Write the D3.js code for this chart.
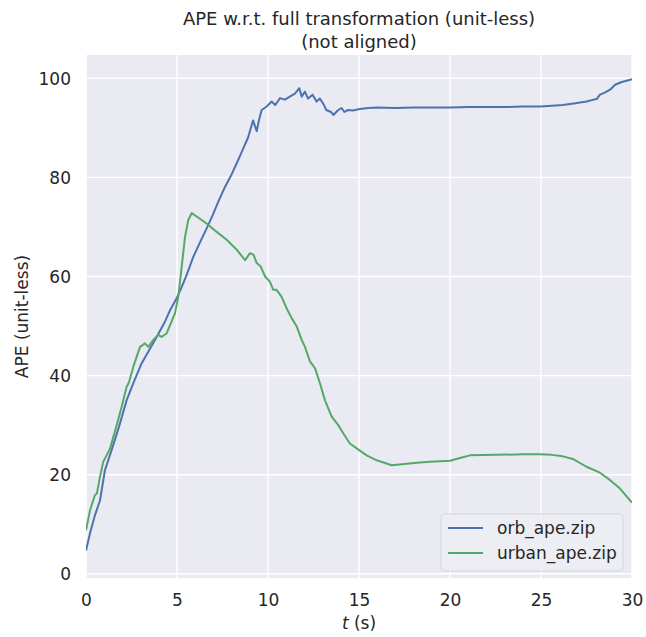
<!DOCTYPE html>
<html>
<head>
<meta charset="utf-8">
<script src="https://cdn.jsdelivr.net/npm/d3@7"></script>
<style>
  html, body { margin: 0; padding: 0; background: #ffffff; }
  svg { display: block; }
  text { font-family: "DejaVu Sans", sans-serif; fill: #262626; }
</style>
</head>
<body>
<svg id="chart" width="646" height="637"></svg>
<script>
// ---- data ----
const titleLines = ["APE w.r.t. full transformation (unit-less)", "(not aligned)"];
const xTicks = [0, 5, 10, 15, 20, 25, 30];
const yTicks = [0, 20, 40, 60, 80, 100];
const seriesNames = ["orb_ape.zip", "urban_ape.zip"];

const orbT = [0, 0.22, 0.49, 0.77, 1.04, 1.41, 1.8, 2.23, 2.6, 3.06, 3.5, 3.88, 4.3, 4.62, 4.98, 5.25, 5.53, 5.9, 6.25, 6.63, 6.95, 7.27, 7.6, 8.0, 8.3, 8.6, 8.9, 9.18, 9.28, 9.38, 9.5, 9.65, 9.93, 10.2, 10.4, 10.66, 10.93, 11.2, 11.48, 11.72, 11.85, 12.03, 12.2, 12.45, 12.67, 12.85, 13.08, 13.2, 13.46, 13.59, 13.86, 14.04, 14.2, 14.4, 14.66, 15.05, 15.5, 16.0, 17.0, 18.0, 19.0, 20.0, 21.0, 22.0, 23.0, 24.0, 25.0, 26.2, 26.8, 27.5, 27.9, 28.06, 28.24, 28.5, 28.8, 29.07, 29.4, 29.7, 30];
const orbV = [4.7, 8.2, 11.8, 14.8, 20.9, 25.0, 29.5, 35.0, 38.5, 42.5, 45.3, 47.8, 50.6, 53.2, 55.6, 57.8, 60.3, 64.0, 66.8, 69.7, 72.3, 75.1, 77.8, 80.6, 83.0, 85.5, 88.0, 91.5, 90.4, 89.3, 91.5, 93.6, 94.3, 95.3, 94.6, 96.0, 95.7, 96.3, 96.9, 98.0, 96.3, 97.3, 95.9, 96.7, 95.3, 95.9, 94.6, 93.6, 93.2, 92.6, 93.6, 94.0, 93.2, 93.6, 93.5, 93.8, 94.0, 94.1, 94.0, 94.1, 94.1, 94.1, 94.2, 94.2, 94.2, 94.3, 94.3, 94.6, 94.9, 95.3, 95.7, 95.8, 96.7, 97.1, 97.7, 98.7, 99.2, 99.5, 99.8];

const urbanT = [0, 0.22, 0.49, 0.6, 0.77, 0.95, 1.23, 1.32, 1.65, 1.96, 2.23, 2.36, 2.6, 2.97, 3.24, 3.42, 3.7, 3.97, 4.15, 4.43, 4.7, 4.89, 5.07, 5.26, 5.44, 5.62, 5.81, 6.08, 6.63, 7.18, 7.73, 8.28, 8.74, 9.01, 9.2, 9.38, 9.6, 9.84, 10.11, 10.29, 10.47, 10.75, 11.02, 11.3, 11.58, 11.85, 12.03, 12.31, 12.58, 12.86, 13.13, 13.5, 13.86, 14.14, 14.5, 14.87, 15.42, 15.97, 16.8, 18.17, 18.9, 20.0, 20.5, 21.1, 22.5, 24.0, 24.9, 25.6, 26.2, 26.8, 27.5, 28.24, 28.8, 29.34, 29.89, 30];
const urbanV = [8.8, 12.8, 15.9, 16.2, 19.6, 22.6, 24.6, 25.3, 29.5, 33.7, 37.7, 38.6, 41.8, 45.8, 46.5, 45.8, 47.2, 48.2, 47.8, 48.5, 50.9, 52.6, 55.9, 62.0, 68.0, 71.4, 72.8, 72.1, 70.7, 69.0, 67.4, 65.4, 63.3, 64.7, 64.4, 62.7, 62.0, 60.0, 58.9, 57.3, 57.3, 55.9, 53.6, 51.6, 49.9, 47.2, 45.8, 42.8, 41.5, 38.4, 35.0, 31.7, 30.0, 28.3, 26.3, 25.3, 23.9, 22.9, 21.9, 22.4, 22.6, 22.8, 23.3, 23.9, 24.0, 24.1, 24.1, 24.0, 23.7, 23.1, 21.6, 20.4, 18.9, 17.2, 14.8, 14.4];

// ---- layout ----
const svg = d3.select("#chart");
const plot = { left: 86, right: 632, top: 55, bottom: 578 };
const colors = ["#4C72B0", "#55A868"];
const bg = "#EAEAF2";

const x = d3.scaleLinear().domain([0, 30]).range([plot.left, plot.right]);
const y = d3.scaleLinear().domain([-0.85, 104.7]).range([plot.bottom, plot.top]);

// background
svg.append("rect")
  .attr("x", plot.left).attr("y", plot.top)
  .attr("width", plot.right - plot.left).attr("height", plot.bottom - plot.top)
  .attr("fill", bg);

// grid lines
const g = svg.append("g");
g.selectAll("line.vx").data(xTicks).enter().append("line")
  .attr("x1", d => x(d)).attr("x2", d => x(d))
  .attr("y1", plot.top).attr("y2", plot.bottom)
  .attr("stroke", "#ffffff").attr("stroke-width", 1.4);
g.selectAll("line.hy").data(yTicks).enter().append("line")
  .attr("y1", d => y(d)).attr("y2", d => y(d))
  .attr("x1", plot.left).attr("x2", plot.right)
  .attr("stroke", "#ffffff").attr("stroke-width", 1.4);

// axes (no tick marks / domain lines, seaborn darkgrid style)
const xAxis = d3.axisBottom(x).tickValues(xTicks).tickSize(0).tickPadding(0).tickFormat(d3.format("d"));
const xa = svg.append("g").attr("transform", `translate(0,${plot.bottom})`).call(xAxis);
xa.select(".domain").remove();
xa.selectAll("text").attr("font-size", 17).attr("font-family", "DejaVu Sans, sans-serif")
  .attr("fill", "#262626").attr("dy", null).attr("y", 22).attr("dominant-baseline", "central");

const yAxis = d3.axisLeft(y).tickValues(yTicks).tickSize(0).tickPadding(0).tickFormat(d3.format("d"));
const ya = svg.append("g").attr("transform", `translate(${plot.left},0)`).call(yAxis);
ya.select(".domain").remove();
ya.selectAll("text").attr("font-size", 17).attr("font-family", "DejaVu Sans, sans-serif")
  .attr("fill", "#262626").attr("dy", null).attr("x", -15).attr("dominant-baseline", "central");

// lines
const line = d3.line().x(d => x(d[0])).y(d => y(d[1]));
const series = [d3.zip(orbT, orbV), d3.zip(urbanT, urbanV)];
const clip = svg.append("clipPath").attr("id", "clip").append("rect")
  .attr("x", plot.left).attr("y", plot.top)
  .attr("width", plot.right - plot.left).attr("height", plot.bottom - plot.top);
svg.append("g").attr("clip-path", "url(#clip)")
  .selectAll("path").data(series).enter().append("path")
  .attr("d", line)
  .attr("fill", "none")
  .attr("stroke", (d, i) => colors[i])
  .attr("stroke-width", 2)
  .attr("stroke-linejoin", "round")
  .attr("stroke-linecap", "butt");

// title
svg.append("text")
  .attr("x", (plot.left + plot.right) / 2).attr("y", 18)
  .attr("text-anchor", "middle").attr("dominant-baseline", "central")
  .attr("font-size", 18)
  .selectAll("tspan").data(titleLines).enter().append("tspan")
  .attr("x", (plot.left + plot.right) / 2)
  .attr("dy", (d, i) => i === 0 ? 0 : 23)
  .text(d => d);

// axis labels
const xl = svg.append("text")
  .attr("x", (plot.left + plot.right) / 2).attr("y", 623)
  .attr("text-anchor", "middle").attr("dominant-baseline", "central")
  .attr("font-size", 17);
xl.append("tspan").attr("font-style", "italic").text("t");
xl.append("tspan").text(" (s)");

svg.append("text")
  .attr("transform", `translate(22,${(plot.top + plot.bottom) / 2}) rotate(-90)`)
  .attr("text-anchor", "middle").attr("dominant-baseline", "central")
  .attr("font-size", 17)
  .text("APE (unit-less)");

// legend
const lg = svg.append("g");
lg.append("rect")
  .attr("x", 441).attr("y", 514).attr("width", 182).attr("height", 57)
  .attr("rx", 4).attr("ry", 4)
  .attr("fill", "#EDEDF4").attr("fill-opacity", 0.9)
  .attr("stroke", "#d4d4dc").attr("stroke-width", 1);
const items = lg.selectAll("g.item").data(seriesNames).enter().append("g")
  .attr("transform", (d, i) => `translate(0,${528 + i * 25})`);
items.append("line")
  .attr("x1", 448).attr("x2", 483).attr("y1", 0).attr("y2", 0)
  .attr("stroke", (d, i) => colors[i]).attr("stroke-width", 2);
items.append("text")
  .attr("x", 497).attr("y", 0).attr("dominant-baseline", "central")
  .attr("font-size", 17)
  .text(d => d);
</script>
</body>
</html>
